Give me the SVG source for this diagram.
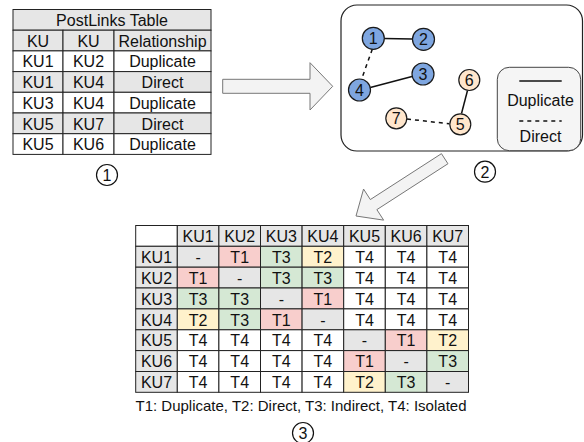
<svg xmlns="http://www.w3.org/2000/svg" width="584" height="442" viewBox="0 0 584 442">
  <style>
    text { font-family: "Liberation Sans", Arial, Helvetica, sans-serif; fill: #111; text-anchor: middle; }
    .t16 { font-size: 16px; }
    .t15 { font-size: 15px; }
    .cell { stroke: #222; stroke-width: 1; }
    .w { fill: #ffffff; }
    .g { fill: #e6e6e6; }
    .r { fill: #f8cecc; }
    .y { fill: #fff2cc; }
    .gr { fill: #d5e8d4; }
    .blue { fill: #7ea6e0; stroke: #1a1a1a; stroke-width: 1.2; }
    .peach { fill: #ffe6cc; stroke: #1a1a1a; stroke-width: 1.2; }
    .step { fill: #ffffff; stroke: #111; stroke-width: 1.2; }
    .solid { stroke: #111; stroke-width: 1.5; fill: none; }
    .dashed { stroke: #111; stroke-width: 1.5; fill: none; stroke-dasharray: 4 4; }
    .bigarrow { fill: #f3f3f3; stroke: #777; stroke-width: 1; }
  </style>
  <rect x="0" y="0" width="584" height="442" fill="#ffffff"/>

  <!-- PostLinks table -->
  <g id="postlinks-table">
    <rect class="cell g" x="13" y="9.5" width="198" height="20.7"/>
    <rect class="cell g" x="13" y="30.2" width="50" height="20.7"/>
    <rect class="cell g" x="63" y="30.2" width="51" height="20.7"/>
    <rect class="cell g" x="114" y="30.2" width="97" height="20.7"/>
    <rect class="cell w" x="13" y="50.9" width="50" height="20.7"/>
    <rect class="cell w" x="63" y="50.9" width="51" height="20.7"/>
    <rect class="cell w" x="114" y="50.9" width="97" height="20.7"/>
    <rect class="cell g" x="13" y="71.6" width="50" height="20.7"/>
    <rect class="cell g" x="63" y="71.6" width="51" height="20.7"/>
    <rect class="cell g" x="114" y="71.6" width="97" height="20.7"/>
    <rect class="cell w" x="13" y="92.3" width="50" height="20.7"/>
    <rect class="cell w" x="63" y="92.3" width="51" height="20.7"/>
    <rect class="cell w" x="114" y="92.3" width="97" height="20.7"/>
    <rect class="cell g" x="13" y="113" width="50" height="20.7"/>
    <rect class="cell g" x="63" y="113" width="51" height="20.7"/>
    <rect class="cell g" x="114" y="113" width="97" height="20.7"/>
    <rect class="cell w" x="13" y="133.7" width="50" height="20.7"/>
    <rect class="cell w" x="63" y="133.7" width="51" height="20.7"/>
    <rect class="cell w" x="114" y="133.7" width="97" height="20.7"/>
    <text class="t16" x="112" y="26">PostLinks Table</text>
    <text class="t16" x="38" y="46.7">KU</text>
    <text class="t16" x="88.5" y="46.7">KU</text>
    <text class="t16" x="162.5" y="46.7">Relationship</text>
    <text class="t16" x="38" y="67.4">KU1</text>
    <text class="t16" x="88.5" y="67.4">KU2</text>
    <text class="t16" x="162.5" y="67.4">Duplicate</text>
    <text class="t16" x="38" y="88.1">KU1</text>
    <text class="t16" x="88.5" y="88.1">KU4</text>
    <text class="t16" x="162.5" y="88.1">Direct</text>
    <text class="t16" x="38" y="108.8">KU3</text>
    <text class="t16" x="88.5" y="108.8">KU4</text>
    <text class="t16" x="162.5" y="108.8">Duplicate</text>
    <text class="t16" x="38" y="129.5">KU5</text>
    <text class="t16" x="88.5" y="129.5">KU7</text>
    <text class="t16" x="162.5" y="129.5">Direct</text>
    <text class="t16" x="38" y="150.2">KU5</text>
    <text class="t16" x="88.5" y="150.2">KU6</text>
    <text class="t16" x="162.5" y="150.2">Duplicate</text>
  </g>
  <g id="step-1">
    <circle class="step" cx="107" cy="175" r="10.5"/>
    <text class="t16" x="107" y="180.8">1</text>
  </g>

  <!-- graph panel -->
  <g id="graph-panel">
    <rect x="341" y="5" width="241.5" height="146" rx="16" ry="16" fill="#ffffff" stroke="#222" stroke-width="1.2"/>
  </g>

  <!-- block arrows between the stages, and the graph edges -->
  <g id="connectors">
    <polygon class="bigarrow" points="222.7,79.3 310,79.3 310,62.7 332.7,86.3 310,110 310,93.3 222.7,93.3"/>
    <polygon class="bigarrow" points="447.96,163.74 376.86,209.64 383.65,220.14 356,216 363.55,189.06 370.34,199.56 441.44,153.66"/>
    <line class="solid" x1="384" y1="38.6" x2="412.5" y2="39.1"/>
    <line class="dashed" x1="372.3" y1="49.3" x2="361.5" y2="79.3"/>
    <line class="solid" x1="370.3" y1="87.5" x2="412" y2="76.5"/>
    <line class="solid" x1="467.5" y1="90.5" x2="461.5" y2="113.5"/>
    <line class="dashed" x1="407" y1="119" x2="449.3" y2="123.8"/>
  </g>

  <g id="ku-1"><circle class="blue" cx="373.3" cy="38.3" r="11"/><text class="t16" x="373.3" y="44">1</text></g>
  <g id="ku-2"><circle class="blue" cx="423.5" cy="39.3" r="11"/><text class="t16" x="423.5" y="45">2</text></g>
  <g id="ku-3"><circle class="blue" cx="423" cy="74" r="11"/><text class="t16" x="423" y="79.7">3</text></g>
  <g id="ku-4"><circle class="blue" cx="359.5" cy="90" r="11"/><text class="t16" x="359.5" y="95.7">4</text></g>
  <g id="ku-6"><circle class="peach" cx="469.3" cy="80" r="10.5"/><text class="t16" x="469.3" y="85.7">6</text></g>
  <g id="ku-7"><circle class="peach" cx="396.3" cy="118.3" r="10.5"/><text class="t16" x="396.3" y="124">7</text></g>
  <g id="ku-5"><circle class="peach" cx="460.3" cy="124.3" r="10.5"/><text class="t16" x="460.3" y="130">5</text></g>

  <g id="edge-legend">
    <rect x="497.3" y="67.3" width="83.4" height="83.4" rx="12" ry="12" fill="#f5f5f5" stroke="#444" stroke-width="1"/>
    <line class="solid" x1="519.3" y1="81" x2="561.7" y2="81"/>
    <text class="t16" x="540.5" y="105.5">Duplicate</text>
    <line class="dashed" x1="519.3" y1="121" x2="561.7" y2="121"/>
    <text class="t16" x="540.5" y="141.5">Direct</text>
  </g>
  <g id="step-2">
    <circle class="step" cx="485" cy="171.7" r="10.5"/>
    <text class="t16" x="485" y="177.5">2</text>
  </g>

  <!-- pairwise relationship matrix -->
  <g id="relation-matrix">
    <!-- header row -->
    <rect class="cell w" x="135.7" y="225.5" width="41.6" height="20.8"/>
    <rect class="cell g" x="177.3" y="225.5" width="41.6" height="20.8"/>
    <rect class="cell g" x="218.9" y="225.5" width="41.6" height="20.8"/>
    <rect class="cell g" x="260.5" y="225.5" width="41.6" height="20.8"/>
    <rect class="cell g" x="302.1" y="225.5" width="41.6" height="20.8"/>
    <rect class="cell g" x="343.7" y="225.5" width="41.6" height="20.8"/>
    <rect class="cell g" x="385.3" y="225.5" width="41.6" height="20.8"/>
    <rect class="cell g" x="426.9" y="225.5" width="41.6" height="20.8"/>
    <!-- KU1 -->
    <rect class="cell g" x="135.7" y="246.3" width="41.6" height="20.9"/>
    <rect class="cell g" x="177.3" y="246.3" width="41.6" height="20.9"/>
    <rect class="cell r" x="218.9" y="246.3" width="41.6" height="20.9"/>
    <rect class="cell gr" x="260.5" y="246.3" width="41.6" height="20.9"/>
    <rect class="cell y" x="302.1" y="246.3" width="41.6" height="20.9"/>
    <rect class="cell w" x="343.7" y="246.3" width="41.6" height="20.9"/>
    <rect class="cell w" x="385.3" y="246.3" width="41.6" height="20.9"/>
    <rect class="cell w" x="426.9" y="246.3" width="41.6" height="20.9"/>
    <!-- KU2 -->
    <rect class="cell g" x="135.7" y="267.2" width="41.6" height="20.8"/>
    <rect class="cell r" x="177.3" y="267.2" width="41.6" height="20.8"/>
    <rect class="cell g" x="218.9" y="267.2" width="41.6" height="20.8"/>
    <rect class="cell gr" x="260.5" y="267.2" width="41.6" height="20.8"/>
    <rect class="cell gr" x="302.1" y="267.2" width="41.6" height="20.8"/>
    <rect class="cell w" x="343.7" y="267.2" width="41.6" height="20.8"/>
    <rect class="cell w" x="385.3" y="267.2" width="41.6" height="20.8"/>
    <rect class="cell w" x="426.9" y="267.2" width="41.6" height="20.8"/>
    <!-- KU3 -->
    <rect class="cell g" x="135.7" y="288" width="41.6" height="20.9"/>
    <rect class="cell gr" x="177.3" y="288" width="41.6" height="20.9"/>
    <rect class="cell gr" x="218.9" y="288" width="41.6" height="20.9"/>
    <rect class="cell g" x="260.5" y="288" width="41.6" height="20.9"/>
    <rect class="cell r" x="302.1" y="288" width="41.6" height="20.9"/>
    <rect class="cell w" x="343.7" y="288" width="41.6" height="20.9"/>
    <rect class="cell w" x="385.3" y="288" width="41.6" height="20.9"/>
    <rect class="cell w" x="426.9" y="288" width="41.6" height="20.9"/>
    <!-- KU4 -->
    <rect class="cell g" x="135.7" y="308.9" width="41.6" height="20.9"/>
    <rect class="cell y" x="177.3" y="308.9" width="41.6" height="20.9"/>
    <rect class="cell gr" x="218.9" y="308.9" width="41.6" height="20.9"/>
    <rect class="cell r" x="260.5" y="308.9" width="41.6" height="20.9"/>
    <rect class="cell g" x="302.1" y="308.9" width="41.6" height="20.9"/>
    <rect class="cell w" x="343.7" y="308.9" width="41.6" height="20.9"/>
    <rect class="cell w" x="385.3" y="308.9" width="41.6" height="20.9"/>
    <rect class="cell w" x="426.9" y="308.9" width="41.6" height="20.9"/>
    <!-- KU5 -->
    <rect class="cell g" x="135.7" y="329.8" width="41.6" height="20.8"/>
    <rect class="cell w" x="177.3" y="329.8" width="41.6" height="20.8"/>
    <rect class="cell w" x="218.9" y="329.8" width="41.6" height="20.8"/>
    <rect class="cell w" x="260.5" y="329.8" width="41.6" height="20.8"/>
    <rect class="cell w" x="302.1" y="329.8" width="41.6" height="20.8"/>
    <rect class="cell g" x="343.7" y="329.8" width="41.6" height="20.8"/>
    <rect class="cell r" x="385.3" y="329.8" width="41.6" height="20.8"/>
    <rect class="cell y" x="426.9" y="329.8" width="41.6" height="20.8"/>
    <!-- KU6 -->
    <rect class="cell g" x="135.7" y="350.6" width="41.6" height="20.9"/>
    <rect class="cell w" x="177.3" y="350.6" width="41.6" height="20.9"/>
    <rect class="cell w" x="218.9" y="350.6" width="41.6" height="20.9"/>
    <rect class="cell w" x="260.5" y="350.6" width="41.6" height="20.9"/>
    <rect class="cell w" x="302.1" y="350.6" width="41.6" height="20.9"/>
    <rect class="cell r" x="343.7" y="350.6" width="41.6" height="20.9"/>
    <rect class="cell g" x="385.3" y="350.6" width="41.6" height="20.9"/>
    <rect class="cell gr" x="426.9" y="350.6" width="41.6" height="20.9"/>
    <!-- KU7 -->
    <rect class="cell g" x="135.7" y="371.5" width="41.6" height="20.8"/>
    <rect class="cell w" x="177.3" y="371.5" width="41.6" height="20.8"/>
    <rect class="cell w" x="218.9" y="371.5" width="41.6" height="20.8"/>
    <rect class="cell w" x="260.5" y="371.5" width="41.6" height="20.8"/>
    <rect class="cell w" x="302.1" y="371.5" width="41.6" height="20.8"/>
    <rect class="cell y" x="343.7" y="371.5" width="41.6" height="20.8"/>
    <rect class="cell gr" x="385.3" y="371.5" width="41.6" height="20.8"/>
    <rect class="cell g" x="426.9" y="371.5" width="41.6" height="20.8"/>

    <g>
      <text class="t16" x="198.1" y="242">KU1</text>
      <text class="t16" x="239.7" y="242">KU2</text>
      <text class="t16" x="281.3" y="242">KU3</text>
      <text class="t16" x="322.9" y="242">KU4</text>
      <text class="t16" x="364.5" y="242">KU5</text>
      <text class="t16" x="406.1" y="242">KU6</text>
      <text class="t16" x="447.7" y="242">KU7</text>

      <text class="t16" x="156.5" y="262.9">KU1</text>
      <text class="t16" x="198.1" y="262.9">-</text>
      <text class="t16" x="239.7" y="262.9">T1</text>
      <text class="t16" x="281.3" y="262.9">T3</text>
      <text class="t16" x="322.9" y="262.9">T2</text>
      <text class="t16" x="364.5" y="262.9">T4</text>
      <text class="t16" x="406.1" y="262.9">T4</text>
      <text class="t16" x="447.7" y="262.9">T4</text>

      <text class="t16" x="156.5" y="283.7">KU2</text>
      <text class="t16" x="198.1" y="283.7">T1</text>
      <text class="t16" x="239.7" y="283.7">-</text>
      <text class="t16" x="281.3" y="283.7">T3</text>
      <text class="t16" x="322.9" y="283.7">T3</text>
      <text class="t16" x="364.5" y="283.7">T4</text>
      <text class="t16" x="406.1" y="283.7">T4</text>
      <text class="t16" x="447.7" y="283.7">T4</text>

      <text class="t16" x="156.5" y="304.6">KU3</text>
      <text class="t16" x="198.1" y="304.6">T3</text>
      <text class="t16" x="239.7" y="304.6">T3</text>
      <text class="t16" x="281.3" y="304.6">-</text>
      <text class="t16" x="322.9" y="304.6">T1</text>
      <text class="t16" x="364.5" y="304.6">T4</text>
      <text class="t16" x="406.1" y="304.6">T4</text>
      <text class="t16" x="447.7" y="304.6">T4</text>

      <text class="t16" x="156.5" y="325.5">KU4</text>
      <text class="t16" x="198.1" y="325.5">T2</text>
      <text class="t16" x="239.7" y="325.5">T3</text>
      <text class="t16" x="281.3" y="325.5">T1</text>
      <text class="t16" x="322.9" y="325.5">-</text>
      <text class="t16" x="364.5" y="325.5">T4</text>
      <text class="t16" x="406.1" y="325.5">T4</text>
      <text class="t16" x="447.7" y="325.5">T4</text>

      <text class="t16" x="156.5" y="346.3">KU5</text>
      <text class="t16" x="198.1" y="346.3">T4</text>
      <text class="t16" x="239.7" y="346.3">T4</text>
      <text class="t16" x="281.3" y="346.3">T4</text>
      <text class="t16" x="322.9" y="346.3">T4</text>
      <text class="t16" x="364.5" y="346.3">-</text>
      <text class="t16" x="406.1" y="346.3">T1</text>
      <text class="t16" x="447.7" y="346.3">T2</text>

      <text class="t16" x="156.5" y="367.2">KU6</text>
      <text class="t16" x="198.1" y="367.2">T4</text>
      <text class="t16" x="239.7" y="367.2">T4</text>
      <text class="t16" x="281.3" y="367.2">T4</text>
      <text class="t16" x="322.9" y="367.2">T4</text>
      <text class="t16" x="364.5" y="367.2">T1</text>
      <text class="t16" x="406.1" y="367.2">-</text>
      <text class="t16" x="447.7" y="367.2">T3</text>

      <text class="t16" x="156.5" y="388">KU7</text>
      <text class="t16" x="198.1" y="388">T4</text>
      <text class="t16" x="239.7" y="388">T4</text>
      <text class="t16" x="281.3" y="388">T4</text>
      <text class="t16" x="322.9" y="388">T4</text>
      <text class="t16" x="364.5" y="388">T2</text>
      <text class="t16" x="406.1" y="388">T3</text>
      <text class="t16" x="447.7" y="388">-</text>
    </g>
    <text class="t15" x="301" y="410.5">T1: Duplicate, T2: Direct, T3: Indirect, T4: Isolated</text>
  </g>
  <g id="step-3">
    <circle class="step" cx="303" cy="433" r="10.5"/>
    <text class="t16" x="303" y="438.8">3</text>
  </g>
</svg>
